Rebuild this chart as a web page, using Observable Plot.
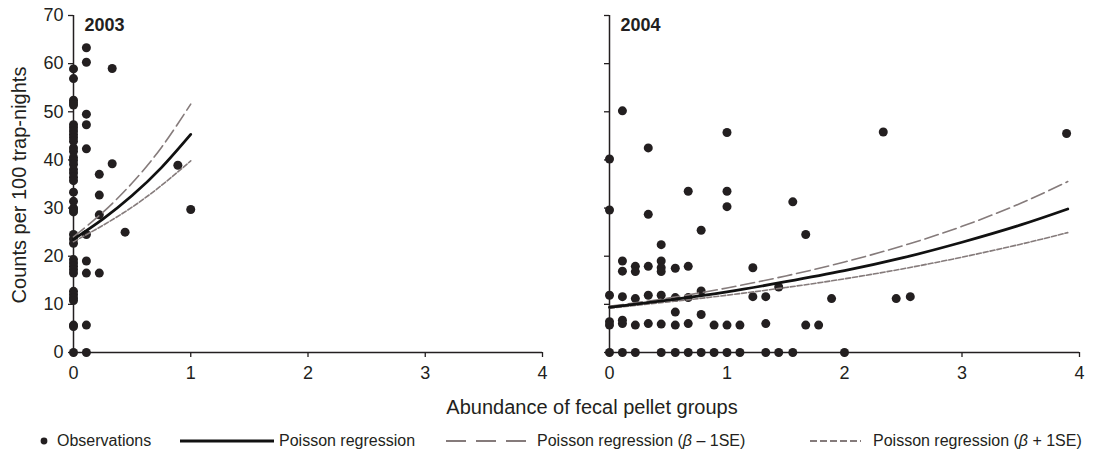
<!DOCTYPE html>
<html><head><meta charset="utf-8">
<script src="https://cdn.jsdelivr.net/npm/d3@7"></script>
<script src="https://cdn.jsdelivr.net/npm/@observablehq/plot@0.6"></script>
<style>
body{margin:0;background:#fff;}
#wrap{position:relative;width:1099px;height:451px;overflow:hidden;font-family:"Liberation Sans",Arial,sans-serif;color:#231f20;}
#wrap svg.plot{position:absolute;top:0;}
.t{position:absolute;white-space:nowrap;}
.leg{position:absolute;white-space:nowrap;font-size:16px;line-height:16px;top:433px;}
</style></head><body><div id="wrap"></div>
<script>
// ---- data ----
const years = ["2003", "2004"];
const xTicks = [0, 1, 2, 3, 4];
const yTicks = [0, 10, 20, 30, 40, 50, 60, 70];

// 2003 observations
const obs2003X = [
  0,0,0,0,0,0,0,0,0,0,0,0,0,0,0,0,0,0,0,0,0,0,0,0,0,0,0,0,0,0,0,0,0,0,0,0,0,0,0,0,
  0.11,0.11,0.11,0.11,0.11,0.11,0.11,0.11,0.11,0.11,
  0.22,0.22,0.22,0.22,
  0.33,0.33,
  0.44,
  0.89,
  1.0
];
const obs2003Y = [
  58.9,56.9,52.4,51.9,51.4,47.3,46.7,46.0,45.3,44.6,43.9,42.5,41.8,40.5,39.9,39.1,38.0,37.3,36.4,35.7,
  33.3,31.4,30.0,29.7,29.2,24.5,23.6,22.7,19.3,18.6,17.9,17.2,16.5,12.7,12.0,11.3,10.8,5.7,5.4,0,
  63.3,60.3,49.5,47.3,42.3,24.5,19.0,16.5,5.7,0,
  37.0,32.7,28.6,16.5,
  59.0,39.2,
  25.0,
  38.9,
  29.7
];

// 2004 observations
const obs2004X = [
  0,0,0,0,0,0,
  0.11,0.11,0.11,0.11,0.11,0.11,0.11,
  0.22,0.22,0.22,0.22,0.22,
  0.33,0.33,0.33,0.33,0.33,
  0.44,0.44,0.44,0.44,0.44,0.44,0.44,
  0.56,0.56,0.56,0.56,0.56,
  0.67,0.67,0.67,0.67,0.67,
  0.78,0.78,0.78,0.78,
  0.89,0.89,
  1.0,1.0,1.0,1.0,1.0,
  1.11,1.11,
  1.22,1.22,
  1.33,1.33,1.33,
  1.44,1.44,
  1.56,1.56,
  1.67,1.67,
  1.78,
  1.89,
  2.0,
  2.33,
  2.44,
  2.56,
  3.89
];
const obs2004Y = [
  40.2,29.6,11.9,6.4,5.7,0,
  50.2,19.0,16.9,11.6,6.7,6.0,0,
  17.9,16.8,11.2,5.7,0,
  42.5,28.7,17.9,11.9,6.0,
  22.4,19.0,17.6,16.8,11.9,5.9,0,
  17.5,11.4,8.4,5.7,0,
  33.5,17.9,11.4,6.0,0,
  25.4,12.8,7.9,0,
  5.7,0,
  45.7,33.5,30.3,5.7,0,
  5.7,0,
  17.6,11.6,
  11.6,6.0,0,
  13.6,0,
  31.3,0,
  24.5,5.7,
  5.7,
  11.2,
  0,
  45.8,
  11.2,
  11.6,
  45.5
];

// fitted curves
const curve2003X = [0, 0.25, 0.5, 0.75, 1.0];
const fit2003    = [23.5, 27.7, 32.6, 38.4, 45.3];
const upper2003  = [24.0, 29.1, 35.2, 42.6, 51.6];
const lower2003  = [23.0, 26.4, 30.2, 34.7, 39.8];

const curve2004X = [0, 0.5, 1.0, 1.5, 2.0, 2.5, 3.0, 3.5, 3.9];
const fit2004    = [9.4, 10.9, 12.6, 14.7, 17.0, 19.7, 22.9, 26.5, 29.8];
const upper2004  = [9.6, 11.3, 13.4, 15.9, 18.8, 22.2, 26.2, 31.0, 35.5];
const lower2004  = [9.2, 10.5, 11.9, 13.5, 15.3, 17.4, 19.8, 22.5, 24.9];

const legendLabels = ["Observations", "Poisson regression", "Poisson regression (β – 1SE)", "Poisson regression (β + 1SE)"];

// ---- drawing ----
const INK = "#231f20";
const DASH = "#857b7b";
const wrap = document.getElementById("wrap");

function panel({year, xs, ys, cx, fit, up, lo, width, left, marginLeft, marginRight, labels}) {
  const pts = xs.map((x, i) => ({x, y: ys[i]}));
  const line = (arr) => cx.map((x, i) => ({x, y: arr[i]}));
  const svg = Plot.plot({
    width, height: 390,
    marginTop: 15, marginBottom: 38, marginLeft, marginRight,
    x: {domain: [0, 4]},
    y: {domain: [0, 70]},
    style: {fontFamily: "Liberation Sans, Arial, sans-serif", fontSize: "18px", color: INK, background: "transparent", overflow: "visible"},
    marks: [
      Plot.axisX({ticks: xTicks, tickSize: 5, tickPadding: 9, label: null, stroke: INK, strokeWidth: 1.3, tickFormat: d => String(d)}),
      Plot.axisY({ticks: yTicks, tickSize: 5, tickPadding: 5, label: null, stroke: INK, strokeWidth: 1.3,
                  tickFormat: labels ? (d => String(d)) : (() => "")}),
      Plot.ruleX([0], {y1: 0, y2: 70, stroke: INK, strokeWidth: 1.5}),
      Plot.ruleY([0], {x1: 0, x2: 4, stroke: INK, strokeWidth: 1.5}),
      Plot.dot(pts, {x: "x", y: "y", r: 4.5, fill: INK, stroke: "none"}),
      Plot.line(line(lo), {x: "x", y: "y", stroke: DASH, strokeWidth: 1.6, strokeDasharray: "5,2", curve: "natural"}),
      Plot.line(line(up), {x: "x", y: "y", stroke: DASH, strokeWidth: 1.6, strokeDasharray: "14,5", curve: "natural"}),
      Plot.line(line(fit), {x: "x", y: "y", stroke: "#111", strokeWidth: 2.8, curve: "natural"}),
      Plot.text([year], {frameAnchor: "top-left", dx: 11, dy: 3, fontWeight: "bold", fontSize: 18, fill: INK, textAnchor: "start", lineAnchor: "top"})
    ]
  });
  svg.classList.add("plot");
  svg.style.left = left + "px";
  wrap.appendChild(svg);
}

panel({year: years[0], xs: obs2003X, ys: obs2003Y, cx: curve2003X, fit: fit2003, up: upper2003, lo: lower2003,
       width: 575, left: 0, marginLeft: 73, marginRight: 33, labels: true});
panel({year: years[1], xs: obs2004X, ys: obs2004Y, cx: curve2004X, fit: fit2004, up: upper2004, lo: lower2004,
       width: 524, left: 575, marginLeft: 34, marginRight: 20, labels: false});

// axis titles
const yt = document.createElement("div");
yt.className = "t";
yt.textContent = "Counts per 100 trap-nights";
Object.assign(yt.style, {left: "19px", top: "185px", fontSize: "20px", transform: "translate(-50%,-50%) rotate(-90deg)"});
wrap.appendChild(yt);

const xt = document.createElement("div");
xt.className = "t";
xt.textContent = "Abundance of fecal pellet groups";
Object.assign(xt.style, {left: "592px", top: "407px", fontSize: "20px", transform: "translate(-50%,-50%)"});
wrap.appendChild(xt);

// legend
function legSym(x, w, draw) {
  const s = d3.create("svg").attr("width", w).attr("height", 16)
    .style("position", "absolute").style("left", x + "px").style("top", "433px");
  draw(s);
  wrap.appendChild(s.node());
}
function legText(x, label) {
  const d = document.createElement("div");
  d.className = "leg";
  d.style.left = x + "px";
  d.innerHTML = label.replace("β", "<i>β</i>");
  wrap.appendChild(d);
}
legSym(40, 10, s => s.append("circle").attr("cx", 4).attr("cy", 8).attr("r", 3.4).attr("fill", INK));
legText(57, legendLabels[0]);
legSym(180, 96, s => s.append("line").attr("x1", 0).attr("x2", 94).attr("y1", 8).attr("y2", 8).attr("stroke", "#111").attr("stroke-width", 2.8));
legText(279, legendLabels[1]);
legSym(446, 84, s => s.append("line").attr("x1", 0).attr("x2", 81).attr("y1", 8).attr("y2", 8).attr("stroke", DASH).attr("stroke-width", 1.8).attr("stroke-dasharray", "20,10"));
legText(537, legendLabels[2]);
legSym(810, 52, s => s.append("line").attr("x1", 0).attr("x2", 51).attr("y1", 8).attr("y2", 8).attr("stroke", DASH).attr("stroke-width", 1.8).attr("stroke-dasharray", "7,3"));
legText(873, legendLabels[3]);
</script></body></html>
